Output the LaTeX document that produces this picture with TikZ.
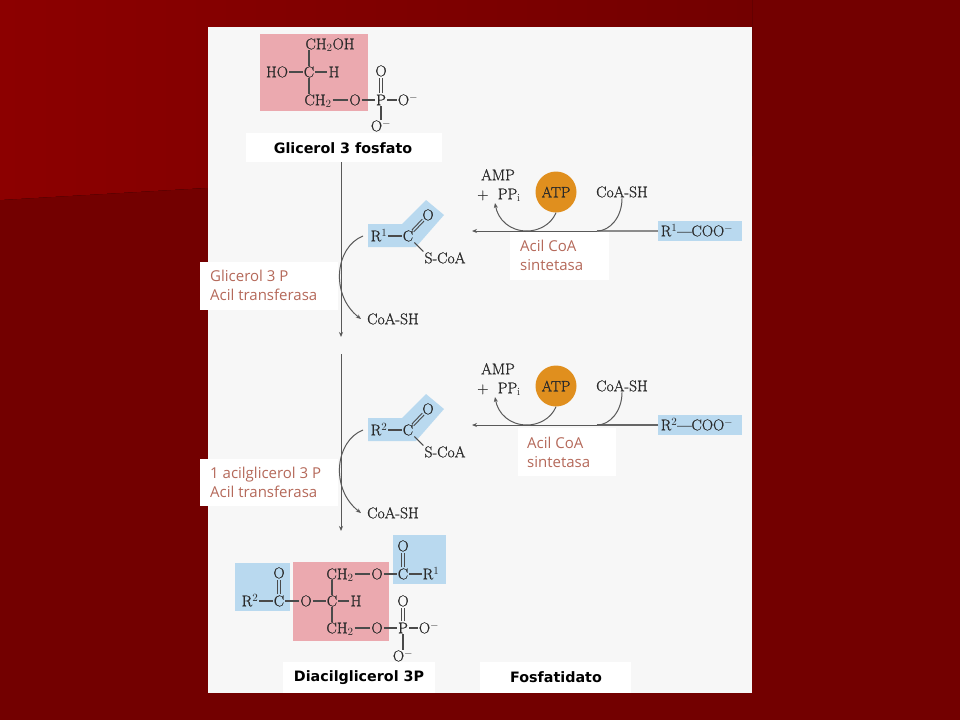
\documentclass[tikz,border=0pt]{standalone}
\usepackage{fontspec}
\usetikzlibrary{arrows.meta,calc}
\newfontfamily\chemfont{Latin Modern Roman}[FakeBold=1.0]
\newfontfamily\labfont{Open Sans}
\newfontfamily\boldfont{DejaVu Sans}
\definecolor{bgdark}{HTML}{730000}
\definecolor{bglight}{HTML}{8C0000}
\definecolor{panelgray}{HTML}{F7F7F7}
\definecolor{pinkbox}{HTML}{EBA9AF}
\definecolor{bluebox}{HTML}{B9D9EF}
\definecolor{atporange}{HTML}{E08F1E}
\definecolor{inktext}{HTML}{2A2A2A}
\definecolor{enzyme}{HTML}{B5695A}
\tikzset{
  atom/.style={text=inktext,font=\chemfont\fontsize{15.5}{17}\selectfont,inner sep=1pt,text height=10.5pt,text depth=0pt,anchor=center},
  bond/.style={draw=inktext!85!white,line width=1.1pt},
  flow/.style={draw=black!65,line width=1pt,-{Stealth[length=5pt,width=4pt]}},
  plainflow/.style={draw=black!65,line width=1pt},
  whitebox/.style={fill=white,draw=none,inner sep=0pt},
  boldlabel/.style={text=black,font=\boldfont\bfseries\fontsize{14.3}{17}\selectfont,inner sep=0pt},
  enzymelabel/.style={text=enzyme,font=\labfont\fontsize{15}{19.2}\selectfont,align=left,anchor=west,inner sep=0pt},
  bluefill/.style={fill=bluebox,draw=none},
  pinkfill/.style={fill=pinkbox,draw=none}
}
% double bond between two atom nodes
\newcommand{\dblbond}[2]{%
  \draw[bond,line width=.9pt,shorten <=7pt,shorten >=7pt] ($(#1)!1.3pt!90:(#2)$) -- ($(#2)!1.3pt!-90:(#1)$);
  \draw[bond,line width=.9pt,shorten <=7pt,shorten >=7pt] ($(#1)!1.3pt!-90:(#2)$) -- ($(#2)!1.3pt!90:(#1)$);}
% one acyl-CoA row: #1 name prefix, #2 R index, #3 vertical offset, #4 colour of right part of the line
\newcommand{\acylrow}[4]{%
\begin{scope}[shift={(0,#3)}]
  \fill[bluefill] (368,224) -- (402,224) -- (426,200) -- (444,215) -- (416,247) -- (368,247) -- cycle;
  \fill[bluefill] (658,221) rectangle (742,241);
  \node[atom] (#1R) at (379,236) {R$^{#2}$};
  \node[atom] (#1C) at (408,236) {C};
  \node[atom] (#1O) at (428,215) {O};
  \node[atom] (#1S) at (445,258) {S-CoA};
  \node[atom] (#1Out) at (393,319) {CoA-SH};
  \node[atom] (#1Acid) at (697,231) {R$^{#2}$—COO$^{-}$};
  \node[atom] (#1Amp) at (498,175) {AMP};
  \node[atom] (#1Ppi) at (499,194) {+\ \ PP$_{\rm i}$};
  \node[atom] (#1Coa) at (622,192) {CoA-SH};
  \node[circle,fill=atporange,minimum size=41pt,inner sep=0pt,text=inktext,font=\chemfont\fontsize{15}{16}\selectfont] (#1Atp) at (556,192) {ATP};
  \draw[bond] (#1R) -- (#1C);
  \dblbond{#1C}{#1O}
  \draw[bond] (#1C) -- (#1S.north west);
  \coordinate (#1End) at (472,231);
  \coordinate (#1Join) at (597,231);
  \coordinate (#1MidA) at (527,231);
  \coordinate (#1Tip) at (495,203);
  \coordinate (#1Start) at (363,236);
  \coordinate (#1Stop) at (361,319);
  \draw[draw=#4,line width=1.2pt] (#1Acid.west -| 658,231) -- (#1Join);
  \draw[flow] (#1Join) -- (#1End);
  \draw[plainflow] (#1Atp.south) .. controls (551,225) and (538,231) .. (#1MidA);
  \draw[flow] (#1MidA) .. controls (510,231) and (498,220) .. (#1Tip);
  \draw[plainflow] (#1Coa.south) .. controls (622,217) and (610,231) .. (#1Join);
  \draw[flow] (#1Start) .. controls (335,247) and (330,295) .. (#1Stop);
\end{scope}}
\begin{document}
\begin{tikzpicture}[x=1pt,y=-1pt]
\useasboundingbox (0,0) rectangle (960,720);
% background
\fill[bgdark] (0,0) rectangle (960,720);
\fill[left color=bglight,right color=bgdark] (0,0) -- (752,0) -- (752,156) -- (0,200) -- cycle;
\fill[panelgray] (208,27) rectangle (752,693);

% top molecule
\fill[pinkfill] (260,34) rectangle (368,111);
\node[atom] (a1) at (330,44) {CH$_2$OH};
\node[atom] (a2) at (309,72) {C};
\node[atom] (a3) at (277,72) {HO};
\node[atom] (a4) at (334,72) {H};
\node[atom] (a5) at (318,100) {CH$_2$};
\node[atom] (a6) at (355,100) {O};
\node[atom] (a7) at (381,100) {P};
\node[atom] (a8) at (381,71) {O};
\node[atom] (a9) at (408,100) {O$^{-}$};
\node[atom] (a10) at (381,126) {O$^{-}$};
\draw[bond] (a2) -- (a2 |- a1.south);
\draw[bond] (a2) -- (a2 |- a5.north);
\draw[bond] (a3) -- (a2);
\draw[bond] (a2) -- (a4);
\draw[bond] (a5) -- (a6);
\draw[bond] (a6) -- (a7);
\draw[bond] (a7) -- (a9);
\dblbond{a7}{a8}
\draw[bond] (a7) -- (a10);

\node[whitebox,minimum width=196pt,minimum height=29pt] (lab1) at (344,147.5) {};
\node[boldlabel] (lab1t) at (343,148) {Glicerol 3 fosfato};

% main vertical arrows
\coordinate (v1a) at (341,162);
\coordinate (v1b) at (341,337);
\coordinate (v2a) at (341,354);
\coordinate (v2b) at (341,531);
\draw[flow] (v1a) -- (v1b);
\draw[flow] (v2a) -- (v2b);

\acylrow{p}{1}{0}{black!45}
\acylrow{q}{2}{194}{black!60}

% enzyme labels
\node[whitebox,minimum width=99pt,minimum height=48pt] (e1b) at (559.5,256) {};
\node[enzymelabel] (e1) at (520,255.5) {Acil CoA\\sintetasa};
\node[whitebox,minimum width=98pt,minimum height=48pt] (e2b) at (567,452) {};
\node[enzymelabel] (e2) at (527,452.5) {Acil CoA\\sintetasa};
\node[whitebox,minimum width=138pt,minimum height=48pt] (e3b) at (269,286) {};
\node[enzymelabel] (e3) at (210,285) {Glicerol 3 P\\Acil transferasa};
\node[whitebox,minimum width=138pt,minimum height=47pt] (e4b) at (269,482.5) {};
\node[enzymelabel] (e4) at (210,482.5) {1 acilglicerol 3 P\\Acil transferasa};

% bottom molecule
\fill[pinkfill] (293,562) rectangle (389,641);
\fill[bluefill] (235,563) rectangle (290,611);
\fill[bluefill] (393,535) rectangle (446,584);
\node[atom] (b1) at (340,574) {CH$_2$};
\node[atom] (b2) at (377,574) {O};
\node[atom] (b3) at (403,574) {C};
\node[atom] (b4) at (431,574) {R$^1$};
\node[atom] (b5) at (403,546) {O};
\node[atom] (b6) at (250,601) {R$^2$};
\node[atom] (b7) at (279,601) {C};
\node[atom] (b8) at (306,601) {O};
\node[atom] (b9) at (332,601) {C};
\node[atom] (b10) at (356,601) {H};
\node[atom] (b11) at (279,573) {O};
\node[atom] (b12) at (403,601) {O};
\node[atom] (b13) at (340,628) {CH$_2$};
\node[atom] (b14) at (377,628) {O};
\node[atom] (b15) at (403,628) {P};
\node[atom] (b16) at (429,628) {O$^{-}$};
\node[atom] (b17) at (403,656) {O$^{-}$};
\draw[bond] (b1) -- (b2);
\draw[bond] (b2) -- (b3);
\draw[bond] (b3) -- (b4);
\dblbond{b3}{b5}
\draw[bond] (b6) -- (b7);
\draw[bond] (b7) -- (b8);
\draw[bond] (b8) -- (b9);
\draw[bond] (b9) -- (b10);
\dblbond{b7}{b11}
\draw[bond] (b9) -- (b9 |- b1.south);
\draw[bond] (b9) -- (b9 |- b13.north);
\draw[bond] (b13) -- (b14);
\draw[bond] (b14) -- (b15);
\draw[bond] (b15) -- (b16);
\dblbond{b15}{b12}
\draw[bond] (b15) -- (b17);

\node[whitebox,minimum width=152pt,minimum height=31pt] (lab2) at (359,677.5) {};
\node[boldlabel] (lab2t) at (359,677.5) {Diacilglicerol 3P};
\node[whitebox,minimum width=151pt,minimum height=31pt] (lab3) at (555.5,677.5) {};
\node[boldlabel] (lab3t) at (556,677.5) {Fosfatidato};
\end{tikzpicture}
\end{document}
